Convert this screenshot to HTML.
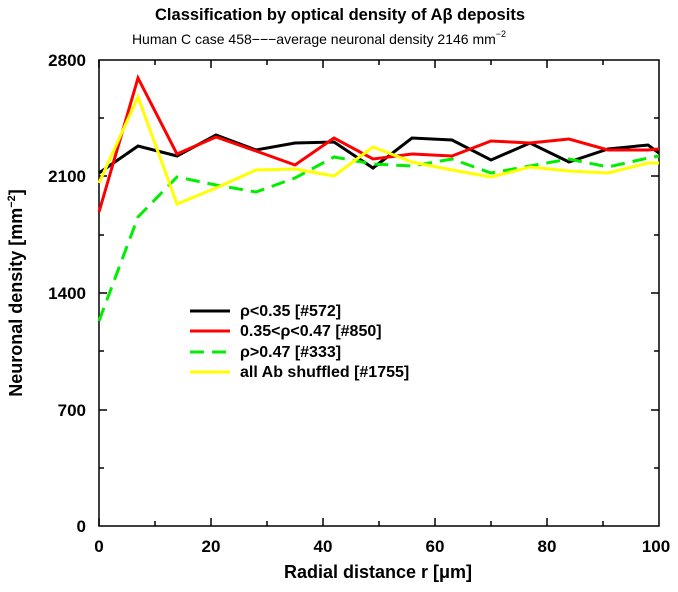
<!DOCTYPE html>
<html><head><style>body{margin:0;background:#fff}svg{display:block}</style></head><body>
<svg width="678" height="592" xmlns="http://www.w3.org/2000/svg" font-family="Liberation Sans, Arial, sans-serif">
<rect width="678" height="592" fill="#fff"/>
<text x="340" y="20" font-size="17" font-weight="bold" text-anchor="middle" textLength="370" lengthAdjust="spacingAndGlyphs">Classification by optical density of Aβ deposits</text>
<text x="319" y="44" font-size="14" text-anchor="middle">Human C case 458−−−average neuronal density 2146 mm<tspan font-size="9" dy="-7">−2</tspan></text>
<g stroke="#000" stroke-width="1.5" fill="none">
<rect x="99" y="60" width="560" height="466"/>
<path d="M99 60v8M155 60v5M211 60v8M267 60v5M323 60v8M379 60v5M435 60v8M491 60v5M547 60v8M603 60v5 M99 526v-8M155 526v-5M211 526v-8M267 526v-5M323 526v-8M379 526v-5M435 526v-8M491 526v-5M547 526v-8M603 526v-5 M99 118h5M99 176h8M99 235h5M99 293h8M99 351h5M99 410h8M99 468h5 M659 118h-5M659 176h-8M659 235h-5M659 293h-8M659 351h-5M659 410h-8M659 468h-5"/>
</g>
<g font-size="17" font-weight="bold" text-anchor="end">
<text x="86" y="66">2800</text><text x="86" y="182">2100</text><text x="86" y="299">1400</text><text x="86" y="416">700</text><text x="86" y="532">0</text>
</g>
<g font-size="17" font-weight="bold" text-anchor="middle">
<text x="99" y="552">0</text><text x="211" y="552">20</text><text x="323" y="552">40</text><text x="435" y="552">60</text><text x="547" y="552">80</text><text x="656" y="552">100</text>
</g>
<text x="378" y="578" font-size="18" font-weight="bold" text-anchor="middle">Radial distance r [μm]</text>
<text transform="translate(22,293) rotate(-90)" font-size="18" font-weight="bold" text-anchor="middle">Neuronal density [mm<tspan font-size="11" dy="-7">−2</tspan><tspan dy="7">]</tspan></text>
<g fill="none" stroke-width="3" stroke-linejoin="miter">
<polyline stroke="#000" points="99,173 138,146 177,156 216,135 256,150 295,143 334,142 373,168 412,138 452,140 491,160 530,143 569,162 608,149 648,145 659,153"/>
<polyline stroke="#f00" points="99,212 138,78 177,154 216,137 256,151 295,165 334,138 373,159 412,154 452,156 491,141 530,143 569,139 608,150 648,150 659,149"/>
<polyline stroke="#0e0" stroke-dasharray="14,8" points="99,321 138,217 177,177 216,185 256,192 295,178 334,157 373,164 412,166 452,159 491,173 530,166 569,159 608,167 648,158 659,156"/>
<polyline stroke="#ff0" points="99,183 138,97 177,204 216,188 256,170 295,169 334,176 373,147 412,162 452,170 491,177 530,167 569,171 608,173 648,163 659,163"/>
</g>
<g stroke-width="3">
<line x1="190" y1="311" x2="230" y2="311" stroke="#000"/>
<line x1="190" y1="331" x2="230" y2="331" stroke="#f00"/>
<line x1="190" y1="352" x2="230" y2="352" stroke="#0e0" stroke-dasharray="14,8"/>
<line x1="190" y1="372" x2="230" y2="372" stroke="#ff0"/>
</g>
<g font-size="16" font-weight="bold">
<text x="240" y="316">ρ&lt;0.35 [#572]</text>
<text x="240" y="336">0.35&lt;ρ&lt;0.47 [#850]</text>
<text x="240" y="357">ρ&gt;0.47 [#333]</text>
<text x="240" y="377">all Ab shuffled [#1755]</text>
</g>
</svg>
</body></html>
